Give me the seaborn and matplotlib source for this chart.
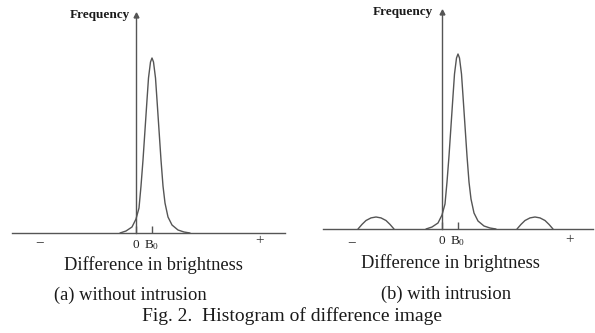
import matplotlib
matplotlib.use("Agg")
import matplotlib.pyplot as plt
import pandas as pd
import seaborn as sns

sns.set_theme(style="white")
plt.rcParams["font.family"] = ["Liberation Serif", "DejaVu Serif"]
plt.rcParams["mathtext.fontset"] = "stix"

# brightness difference (0 = vertical axis, 16 = B0), frequency in arbitrary units
peak_x = [-16, -10, -4, 0, 3, 5, 7, 9, 11, 12.5, 14.5, 16, 17.5, 19.5, 21, 23, 25, 27, 29, 32, 36, 42, 48, 54]
peak_freq = [0, 2, 6, 14, 25, 47, 73, 103, 133, 155, 171, 175, 171, 155, 133, 103, 73, 47, 30, 16, 8, 3, 1, 0]

# extra humps caused by an intrusion (panel b)
hump_neg_x = [-84, -80, -76, -71, -66, -61, -56, -52, -48]
hump_pos_x = [75, 79, 83, 88, 93, 98, 103, 107, 111]
hump_freq = [0, 4.6, 8.5, 11.1, 12, 11.1, 8.5, 4.6, 0]

tick_pos = [0, 16]
tick_labels = ["0", r"$\mathregular{B_0}$"]
panel_titles = ["(a) without intrusion", "(b) with intrusion"]
caption = "Fig. 2.  Histogram of difference image"

LINE = "#555555"
W, H = 595, 333

fig = plt.figure(figsize=(W / 100, H / 100), dpi=100)


def make_axes(x0, x1, base, top, axis_px):
    ax = fig.add_axes([x0 / W, (H - base) / H, (x1 - x0) / W, (base - top) / H])
    ax.set_xlim(x0 - axis_px, x1 - axis_px)
    ax.set_ylim(0, base - top)
    ax.set_facecolor("none")
    for s in ["top", "right"]:
        ax.spines[s].set_visible(False)
    ax.spines["left"].set_position(("data", 0))
    for s in ["left", "bottom"]:
        ax.spines[s].set_color(LINE)
        ax.spines[s].set_linewidth(1.0)
    ax.set_yticks([])
    ax.set_xticks(tick_pos)
    ax.set_xticklabels(tick_labels, fontsize=9.5, color="#222222")
    ax.tick_params(axis="x", direction="in", length=5, width=1.0, color=LINE, pad=4, bottom=True)
    ax.plot([0], [1], marker="^", ms=3.5, color=LINE, transform=ax.get_xaxis_transform(), clip_on=False)
    return ax


peak_df = pd.DataFrame({"x": peak_x, "freq": peak_freq, "seg": "peak"})

# panel (a)
axa = make_axes(12, 285, 233, 15, 136)
sns.lineplot(data=peak_df, x="x", y="freq", units="seg", estimator=None,
             color=LINE, lw=1.0, ax=axa, sort=False)
axa.set_xlabel("")
axa.set_ylabel("")
axa.text(-96, -10, "−", ha="center", va="center", fontsize=11, color="#333333", clip_on=False)
axa.text(124, -8, "+", ha="center", va="center", fontsize=11, color="#333333", clip_on=False)

# panel (b)
axb = make_axes(323, 593, 229, 12, 442)
b_df = pd.concat([
    peak_df,
    pd.DataFrame({"x": hump_neg_x, "freq": hump_freq, "seg": "neg"}),
    pd.DataFrame({"x": hump_pos_x, "freq": hump_freq, "seg": "pos"}),
], ignore_index=True)
sns.lineplot(data=b_df, x="x", y="freq", units="seg", estimator=None,
             color=LINE, lw=1.0, ax=axb, sort=False)
axb.set_xlabel("")
axb.set_ylabel("")
axb.text(-90, -14, "−", ha="center", va="center", fontsize=11, color="#333333", clip_on=False)
axb.text(128, -11, "+", ha="center", va="center", fontsize=11, color="#333333", clip_on=False)

# texts
TXT = "#1a1a1a"
fig.text(130 / W, 1 - 15 / H, "Frequency", ha="right", va="center", fontsize=9.5, weight="bold", color=TXT)
fig.text(433 / W, 1 - 12 / H, "Frequency", ha="right", va="center", fontsize=9.5, weight="bold", color=TXT)
fig.text(153.5 / W, 1 - 265 / H, "Difference in brightness", ha="center", va="center", fontsize=13.3, color=TXT)
fig.text(450 / W, 1 - 263 / H, "Difference in brightness", ha="center", va="center", fontsize=13.3, color=TXT)
fig.text(130.5 / W, 1 - 295 / H, panel_titles[0], ha="center", va="center", fontsize=13.3, color=TXT)
fig.text(446 / W, 1 - 294 / H, panel_titles[1], ha="center", va="center", fontsize=13.3, color=TXT)
fig.text(292.5 / W, 1 - 316 / H, caption, ha="center", va="center", fontsize=14, color=TXT)

fig.savefig("out.png", dpi=100, facecolor="white")
